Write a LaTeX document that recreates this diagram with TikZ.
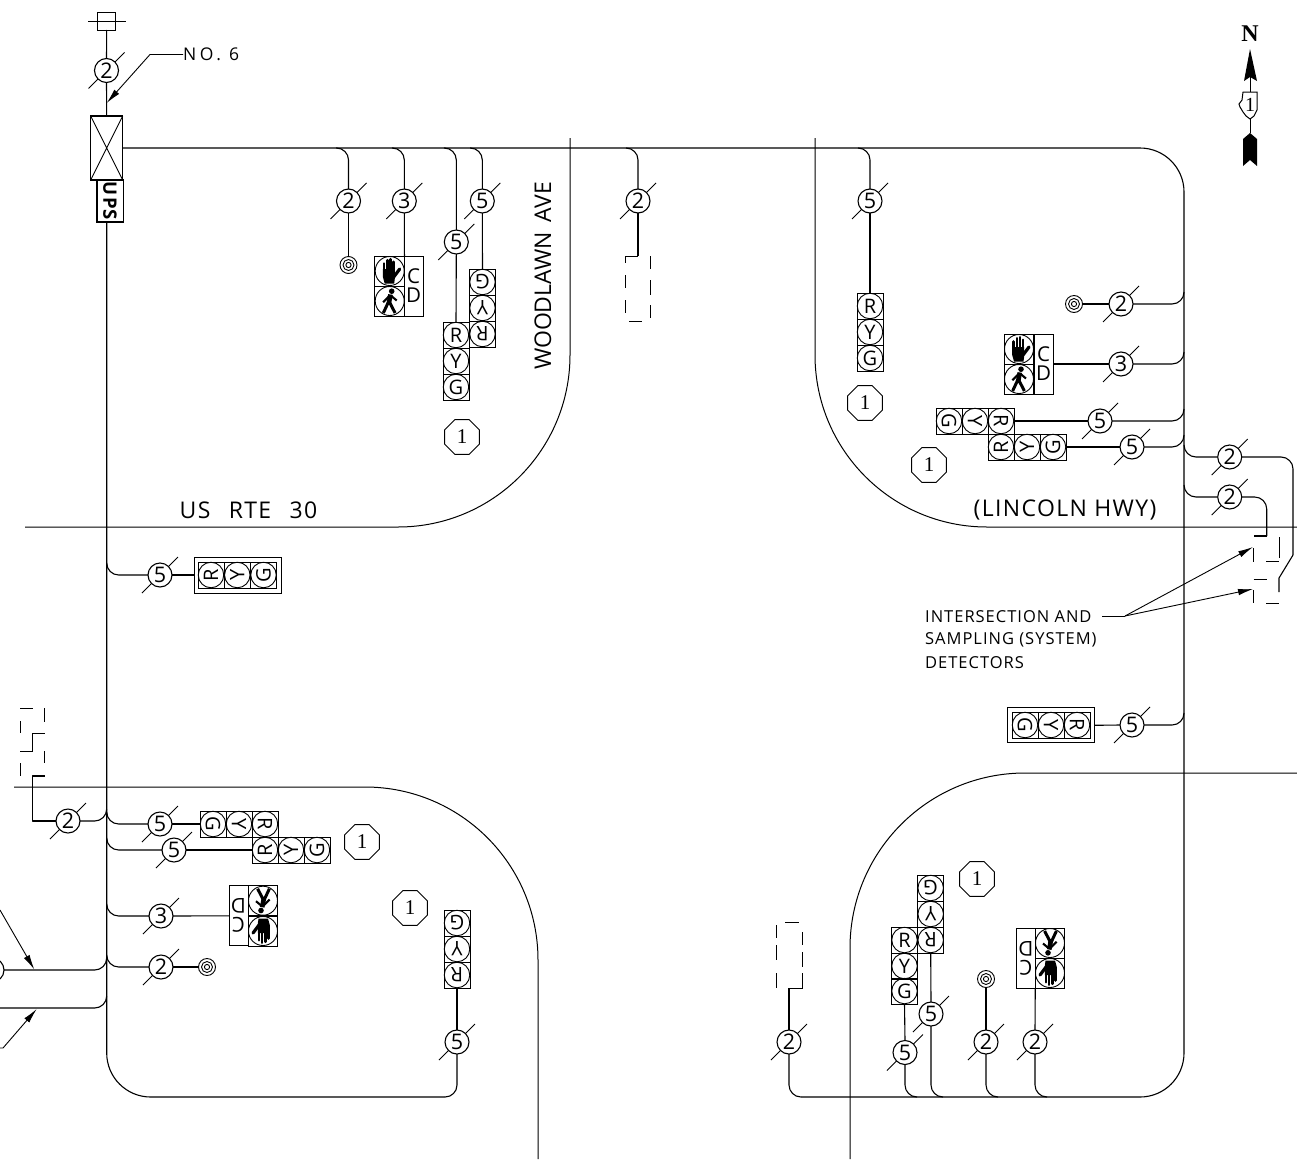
\documentclass[tikz,border=0pt]{standalone}
\usepackage{fontspec}
\usetikzlibrary{arrows.meta,shapes.geometric}
\newfontfamily\cad[LetterSpace=6]{Open Sans}
\newfontfamily\cadz{Open Sans}
\newfontfamily\cadx[LetterSpace=20]{Open Sans}
\newfontfamily\lser{Liberation Serif}
\tikzset{
  wire/.style={line width=1.1pt,black,line join=round},
  thinl/.style={line width=0.9pt,black},
  roadl/.style={line width=1pt,black},
  tapc/.style={wire,rounded corners=12pt},
  mkc/.style={circle,draw,fill=white,line width=1.1pt,minimum size=24pt,inner sep=0pt,outer sep=0pt,font=\cadz\fontsize{21.5}{21.5}\selectfont},
  cellb/.style={rectangle,draw,line width=0.9pt,minimum size=26pt,inner sep=0pt,outer sep=0pt},
  cellc/.style={circle,draw,line width=0.9pt,minimum size=25.5pt,inner sep=0pt,outer sep=0pt,font=\cadz\fontsize{20}{20}\selectfont},
  pedi/.style={rectangle,draw,line width=1pt,minimum width=29.5pt,minimum height=30pt,inner sep=0pt,outer sep=0pt},
  pedo/.style={circle,draw,line width=0.9pt,minimum size=29pt,inner sep=0pt,outer sep=0pt},
  pedl/.style={rectangle,draw,line width=0.9pt,minimum width=19pt,minimum height=60pt,inner sep=0pt,outer sep=0pt},
  pedt/.style={inner sep=0pt,align=center,font=\cadz\fontsize{20.5}{19}\selectfont},
  octo/.style={regular polygon,regular polygon sides=8,draw,line width=0.9pt,minimum size=37.5pt,inner sep=0pt,outer sep=0pt,font=\lser\fontsize{21}{21}\selectfont},
  deto/.style={circle,draw,line width=0.9pt,minimum size=17pt,inner sep=0pt,outer sep=0pt},
  lbl/.style={inner sep=0pt,font=\cad\fontsize{23}{23}\selectfont},
  note/.style={inner sep=0pt,font=\cad\fontsize{16.5}{16.5}\selectfont},
  lead/.style={line width=0.9pt,-{Latex[length=15pt,width=6.5pt]}},
  hand/.pic={
    \fill (-6.8,-2) -- (5.2,-2) -- (5.2,7) -- (4.5,12.5) -- (-5,12.5) -- (-6.8,6) -- cycle;
    \draw[line width=2.6pt,line cap=round] (-5.6,-1) -- (-5.6,-7.5) (-2.2,-1) -- (-2.2,-10.8) (1,-1) -- (1,-11.8) (4,-1) -- (4,-9.2);
    \draw[line width=3.2pt,line cap=round] (4,6) -- (10,-2);
  },
  walk/.pic={
    \fill (2,-9.8) circle (2.8);
    \draw[line width=4.6pt] (0.8,-6.5) -- (-0.8,2);
    \draw[line width=3pt] (-0.8,0) -- (-6.4,12) (-0.8,0) -- (5.4,12);
    \draw[line width=2.1pt] (0,-5.5) -- (-6.6,1.2) (1,-5.5) -- (7,-0.5);
  }
}
% wire marker: name, x, y, number
\newcommand{\wmk}[4]{%
  \draw[thinl] ([shift={(-18,18)}]#2,#3) -- ([shift={(18,-18)}]#2,#3);
  \node[mkc] (#1) at (#2,#3) {#4};}
% one signal cell: name, x, y, letter, rotation
\newcommand{\scell}[5]{%
  \node[cellb] (#1) at (#2,#3) {};
  \node[cellc,rotate=#5] (#1c) at (#1) {#4};}
% pedestrian head: name, x, y1, y2, xlabel, ymid, rotation
\newcommand{\pedh}[7]{%
  \node[pedi] (#1a) at (#2,#3) {};
  \node[pedi] (#1b) at (#2,#4) {};
  \node[pedl] (#1l) at (#5,#6) {};
  \node[pedt,rotate=#7] (#1t) at (#1l) {C\\D};
  \node[pedo] (#1p) at (#1a) {};
  \node[pedo] (#1q) at (#1b) {};}
% detector bullseye
\newcommand{\detc}[3]{%
  \node[deto] (#1) at (#2,#3) {};
  \draw[line width=0.9pt] (#1.center) circle (5.5) (#1.center) circle (2.6);}
\newcommand{\octg}[3]{\node[octo] (#1) at (#2,#3) {1};}
\begin{document}
\begin{tikzpicture}[x=1pt,y=-1pt]
\useasboundingbox (0,0) rectangle (1297,1159);
\fill[white] (0,0) rectangle (1297,1159);
\clip (0,0) rectangle (1297,1159);

% ---- curbs
\draw[roadl] (570,138) -- (570,355) arc[start angle=0,end angle=90,radius=172] -- (25,527);
\draw[roadl] (815,138) -- (815,355) arc[start angle=180,end angle=90,radius=172] -- (1297,527);
\draw[roadl] (14,787) -- (365,787) arc[start angle=-90,end angle=0,radius=173] -- (538,1159);
\draw[roadl] (1297,773) -- (1025,773) arc[start angle=-90,end angle=-180,radius=175] -- (850,1159);

% ---- cabinet, service
\node[draw,minimum size=18pt,line width=1pt,inner sep=0pt,outer sep=0pt] (fuse) at (106.7,21) {};
\coordinate (fa) at (88,21); \coordinate (fb) at (126,21);
\draw[thinl] (fa) -- (fb);
\node[draw,line width=1.5pt,minimum width=32pt,minimum height=64pt,inner sep=0pt,outer sep=0pt] (cab) at (106.7,148) {};
\draw[thinl] (cab.north west) -- (cab.south east) (cab.north east) -- (cab.south west);
\node[draw,line width=1.5pt,rotate=-90,minimum width=42pt,minimum height=26.5pt,inner sep=0pt,outer sep=0pt,font=\cad\bfseries\fontsize{18.5}{18.5}\selectfont] (ups) at (110,201) {UPS};
\wmk{ms}{106.5}{70.5}{2}
\draw[wire] (fuse.south) -- (ms.north) (ms.south) -- (cab.north);
\node[inner sep=0pt,font=\cadx\fontsize{17.5}{17.5}\selectfont,anchor=west] (no) at (183,54.5) {NO. 6};
\coordinate (nk) at (150,54.5); \coordinate (nt) at (106.7,103);
\draw[lead] (no.west) -- (nk) -- (nt);

% ---- main trunks
\coordinate (ne) at (1184,148);
\coordinate (se) at (1184,1097);
\coordinate (bc) at (801,1097);
\draw[wire,rounded corners=44pt] (cab.east) -- (ne) -- (se) -- (bc);
\coordinate (wt) at (106.7,222);
\coordinate (sw) at (106.7,1097);
\coordinate (bw) at (445,1097);
\draw[wire,rounded corners=44pt] (wt) -- (sw) -- (bw);

% ---- NW quadrant
\wmk{m1}{348.5}{201}{2}
\detc{d1}{348.5}{265}
\coordinate (t1) at (337,148);
\draw[tapc] (m1.north) |- (t1);
\draw[wire] (m1.south) -- (d1.north);
\wmk{m2}{404.3}{201}{3}
\pedh{pa}{389.7}{271}{301}{413.7}{286}{0}
\pic at (pap) {hand}; \pic at (paq) {walk};
\coordinate (t2) at (393,148);
\draw[tapc] (m2.north) |- (t2);
\draw[wire] (m2.south) -- (paa.north east);
\wmk{m3}{456.3}{242}{5}
\scell{a1}{456}{335}{R}{0}\scell{a2}{456}{361}{Y}{0}\scell{a3}{456}{387}{G}{0}
\coordinate (t3) at (445,148);
\draw[tapc] (m3.north) |- (t3);
\draw[wire] (m3.south) -- (a1.north);
\wmk{m4}{482.3}{201}{5}
\scell{b1}{482.5}{282}{G}{180}\scell{b2}{482.5}{308}{Y}{180}\scell{b3}{482.5}{334}{R}{180}
\coordinate (t4) at (470,148);
\draw[tapc] (m4.north) |- (t4);
\draw[wire] (m4.south) -- (b1.north);
\octg{o1}{462}{437}
\node[lbl,font=\cadz\fontsize{23}{23}\selectfont,rotate=90] (woodlawn) at (543,276) {WOODLAWN\hspace{4pt} AVE};
\node[lbl] (usrte) at (248.5,510) {US\hspace{11pt} RTE\hspace{11pt} 30};

% ---- north detector
\wmk{m5}{638}{201}{2}
\coordinate (t5) at (626,148);
\coordinate (l1) at (638,256);
\coordinate (l2) at (625.7,256);
\coordinate (l3) at (625.7,263);
\draw[tapc] (m5.north) |- (t5);
\draw[wire] (m5.south) -- (l1);
\draw[thinl] (l1) -- (l2) -- (l3);
\draw[thinl] (625.7,275) -- (625.7,288) (625.7,300) -- (625.7,313)
  (650.7,256) -- (650.7,269) (650.7,280) -- (650.7,295) (650.7,305) -- (650.7,318)
  (629,321.7) -- (642,321.7);

% ---- NE quadrant
\wmk{m6}{870}{201}{5}
\scell{c1}{870}{306}{R}{0}\scell{c2}{870}{332}{Y}{0}\scell{c3}{870}{358}{G}{0}
\coordinate (t6) at (858,148);
\draw[tapc] (m6.north) |- (t6);
\draw[wire] (m6.south) -- (c1.north);
\octg{o2}{865}{403}
\octg{o3}{929}{465}
\wmk{m7}{1121}{304}{2}
\detc{d2}{1074}{304}
\coordinate (e1) at (1184,292);
\draw[wire] (d2.east) -- (m7.west);
\draw[tapc] (m7.east) -| (e1);
\wmk{m8}{1121}{364}{3}
\pedh{pb}{1019}{349}{379}{1043.5}{364}{0}
\pic at (pbp) {hand}; \pic at (pbq) {walk};
\coordinate (e2) at (1184,352);
\draw[wire] (pbl.east) -- (m8.west);
\draw[tapc] (m8.east) -| (e2);
\wmk{m9}{1100}{421}{5}
\scell{f1}{949}{421}{G}{-90}\scell{f2}{975}{421}{Y}{-90}\scell{f3}{1001}{421}{R}{-90}
\coordinate (e3) at (1184,409);
\draw[wire] (f3.east) -- (m9.west);
\draw[tapc] (m9.east) -| (e3);
\wmk{m10}{1132}{447}{5}
\scell{g1}{1001}{447}{R}{90}\scell{g2}{1027}{447}{Y}{90}\scell{g3}{1053}{447}{G}{90}
\coordinate (e4) at (1184,435);
\draw[wire] (g3.east) -- (m10.west);
\draw[tapc] (m10.east) -| (e4);
\node[lbl] (linc) at (1065,510) {(LINCOLN HWY)};

% ---- east detectors
\wmk{m11}{1229.7}{457}{2}
\wmk{m12}{1229.7}{497}{2}
\coordinate (h1) at (1184,445);
\coordinate (h2) at (1184,485);
\draw[tapc] (h1) |- (m11.west);
\draw[tapc] (h2) |- (m12.west);
\coordinate (r1) at (1293,555);
\coordinate (r2) at (1279,578);
\coordinate (r3) at (1279,592);
\draw[tapc] (m11.east) -| (r1);
\draw[wire] (r1) -- (r2) -- (r3);
\coordinate (r4) at (1266.7,536);
\coordinate (r5) at (1253.5,536);
\draw[tapc] (m12.east) -| (r4);
\draw[wire] (r4) -- (r5);
\draw[thinl] (1279,537) -- (1279,558) (1253.5,548) -- (1253.5,562) (1266,561) -- (1279,561)
  (1253.5,579) -- (1267,579) (1253.5,590) -- (1253.5,603) (1266,603) -- (1279,603);
\node[note,anchor=west] (n1) at (925,617) {INTERSECTION AND};
\node[note,anchor=west] (n2) at (925,640) {SAMPLING (SYSTEM)};
\node[note,anchor=west] (n3) at (925,663) {DETECTORS};
\coordinate (nj) at (1125,616);
\coordinate (nts) at (1102,616);
\coordinate (nta) at (1253,547);
\coordinate (ntb) at (1253,589);
\draw[thinl] (nts) -- (nj);
\draw[lead] (nj) -- (nta);
\draw[lead] (nj) -- (ntb);

% ---- east signal
\wmk{m13}{1132}{725}{5}
\node[draw,line width=1pt,minimum width=87pt,minimum height=35pt,inner sep=0pt,outer sep=0pt] (eo) at (1050.5,725.3) {};
\scell{h1c}{1025}{725}{G}{-90}\scell{h2c}{1051}{725}{Y}{-90}\scell{h3c}{1077}{725}{R}{-90}
\coordinate (e5) at (1184,713);
\draw[wire] (eo.east) -- (m13.west);
\draw[tapc] (m13.east) -| (e5);

% ---- west signal
\wmk{m14}{160}{575}{5}
\node[draw,line width=1pt,minimum width=87pt,minimum height=36pt,inner sep=0pt,outer sep=0pt] (wo) at (237.7,575) {};
\scell{i1}{211}{575}{R}{90}\scell{i2}{237.3}{575}{Y}{90}\scell{i3}{263.5}{575}{G}{90}
\coordinate (w1) at (106.7,563);
\draw[tapc] (w1) |- (m14.west);
\draw[wire] (m14.east) -- (wo.west);

% ---- west detector
\wmk{m15}{68}{821}{2}
\coordinate (w2) at (106.7,809);
\coordinate (q1) at (32.7,821);
\coordinate (q2) at (32.7,776);
\coordinate (q3) at (44.7,776);
\draw[tapc] (m15.east) -| (w2);
\draw[wire] (m15.west) -- (q1) -- (q2) -- (q3);
\draw[thinl] (20,708) -- (33,708) (44.7,708) -- (44.7,722) (20,721) -- (20,733)
  (44.7,733) -- (32.7,733) -- (32.7,751) -- (20,751)
  (44.7,751) -- (44.7,763) (20,763) -- (20,776);

% ---- SW quadrant
\wmk{m16}{160}{824}{5}
\scell{j1}{213}{824}{G}{-90}\scell{j2}{239}{824}{Y}{-90}\scell{j3}{265}{824}{R}{-90}
\coordinate (w3) at (106.7,812);
\draw[tapc] (w3) |- (m16.west);
\draw[wire] (m16.east) -- (j1.west);
\wmk{m17}{174}{850}{5}
\scell{k1}{265}{850}{R}{90}\scell{k2}{291}{850}{Y}{90}\scell{k3}{317}{850}{G}{90}
\coordinate (w4) at (106.7,838);
\draw[tapc] (w4) |- (m17.west);
\draw[wire] (m17.east) -- (k1.west);
\octg{o4}{362}{842}
\wmk{m18}{161}{916}{3}
\pedh{pc}{263}{900.7}{931}{238.5}{915.8}{180}
\pic[rotate=180] at (pcp) {walk}; \pic[rotate=180] at (pcq) {hand};
\coordinate (w5) at (106.7,904);
\draw[tapc] (w5) |- (m18.west);
\draw[wire] (m18.east) -- (pcl.west);
\wmk{m19}{161}{967}{2}
\detc{d3}{207}{967}
\coordinate (w6) at (106.7,955);
\draw[tapc] (w6) |- (m19.west);
\draw[wire] (m19.east) -- (d3.west);
\octg{o5}{410}{908}
\scell{l1c}{457}{923}{G}{180}\scell{l2c}{457}{949}{Y}{180}\scell{l3c}{457}{975}{R}{180}
\wmk{m20}{457}{1042}{5}
\draw[wire] (l3c.south) -- (m20.north);
\draw[tapc] (m20.south) |- (bw);

% ---- west edge
\node[mkc] (m21) at (-8,970) {};
\coordinate (w7) at (106.7,958);
\draw[tapc] (m21.east) -| (w7);
\coordinate (w8) at (106.7,996);
\coordinate (x0) at (0,1008);
\draw[tapc] (x0) -| (w8);
\coordinate (y1) at (0,910);
\coordinate (y2) at (34.3,969.5);
\draw[lead] (y1) -- (y2);
\coordinate (y3) at (0,1048);
\coordinate (y4) at (3,1048);
\coordinate (y5) at (36.7,1009);
\draw[lead] (y3) -- (y4) -- (y5);

% ---- SE quadrant
\wmk{m22}{789}{1042}{2}
\coordinate (s1) at (789,988);
\coordinate (s2) at (802,988);
\coordinate (s3) at (802,973);
\draw[tapc] (m22.south) |- (bc);
\draw[wire] (m22.north) -- (s1);
\draw[thinl] (s1) -- (s2) -- (s3);
\draw[thinl] (785,922.7) -- (799,922.7) (776.7,925) -- (776.7,938) (776.7,945) -- (776.7,960) (776.7,973) -- (776.7,988)
  (802,932) -- (802,945) (802,952) -- (802,967);
\scell{n1c}{904.5}{940}{R}{0}\scell{n2c}{904.5}{966}{Y}{0}\scell{n3c}{904.5}{991}{G}{0}
\wmk{m23}{905}{1052.5}{5}
\coordinate (b1) at (917,1097);
\draw[wire] (n3c.south) -- (m23.north);
\draw[tapc] (m23.south) |- (b1);
\scell{p1c}{930.7}{888}{G}{180}\scell{p2c}{930.7}{914}{Y}{180}\scell{p3c}{930.7}{940}{R}{180}
\wmk{m24}{931}{1014}{5}
\coordinate (b2) at (943,1097);
\draw[wire] (p3c.south) -- (m24.north);
\draw[tapc] (m24.south) |- (b2);
\octg{o6}{977}{879}
\detc{d4}{986}{979}
\wmk{m25}{986}{1042}{2}
\coordinate (b3) at (998,1097);
\draw[wire] (d4.south) -- (m25.north);
\draw[tapc] (m25.south) |- (b3);
\pedh{pd}{1050}{943}{973}{1026}{958}{180}
\pic[rotate=180] at (pdp) {walk}; \pic[rotate=180] at (pdq) {hand};
\wmk{m26}{1035}{1042}{2}
\coordinate (b4) at (1047,1097);
\draw[wire] (pdb.south west) -- (m26.north);
\draw[tapc] (m26.south) |- (b4);

% ---- north arrow
\node[inner sep=0pt,font=\lser\bfseries\fontsize{24}{24}\selectfont] (north) at (1250,33.5) {N};
\fill (1250,49) -- (1257,81) -- (1250,77) -- (1244,81) -- cycle;
\fill (1250,133) -- (1257,139) -- (1257,166) -- (1250,160) -- (1243,166) -- (1243,139) -- cycle;
\draw[line width=1pt] (1250,77) -- (1250,92) (1250,119) -- (1250,133);
\draw[line width=1pt] (1243,92) -- (1257,92) -- (1257,110) -- (1254,116) -- (1250,119) -- (1246,116) -- (1243,112) -- (1240,107) -- (1239,104) -- (1242,100) -- cycle;
\node[inner sep=0pt,font=\lser\fontsize{20}{20}\selectfont] (state) at (1250,104.5) {1};
\end{tikzpicture}
\end{document}
